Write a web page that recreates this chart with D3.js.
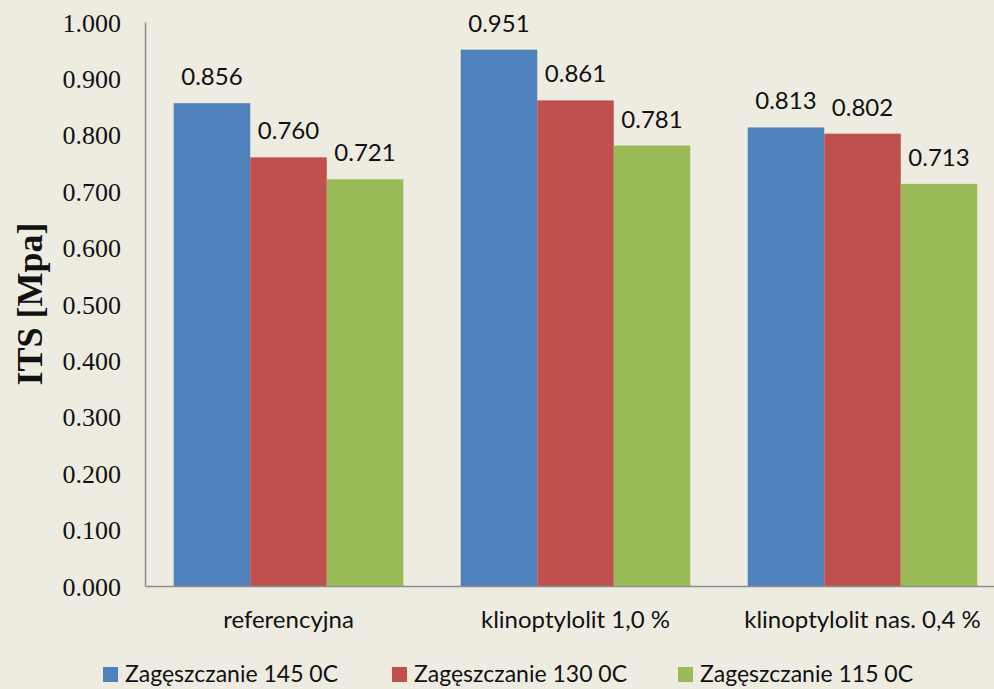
<!DOCTYPE html>
<html>
<head>
<meta charset="utf-8">
<script src="https://cdn.jsdelivr.net/npm/d3@7"></script>
<style>
  html, body { margin: 0; padding: 0; background: #eeece1; }
  svg { display: block; }
</style>
</head>
<body>
<svg id="chart" width="994" height="689"></svg>
<script>
// ITS values for three mixes at three compaction temperatures
const categories = ["referencyjna", "klinoptylolit 1,0 %", "klinoptylolit nas. 0,4 %"];
const seriesNames = ["Zagęszczanie 145 0C", "Zagęszczanie 130 0C", "Zagęszczanie 115 0C"];
const values145 = [0.856, 0.951, 0.813];
const values130 = [0.760, 0.861, 0.802];
const values115 = [0.721, 0.781, 0.713];
const yTicks = [0, 0.1, 0.2, 0.3, 0.4, 0.5, 0.6, 0.7, 0.8, 0.9, 1.0];
const colors = ["#4f81bd", "#c0504d", "#9bbb59"];

const series = [values145, values130, values115];

const svg = d3.select("#chart");
const W = 994, H = 689;
const margin = { left: 145, top: 22, bottom: 103 };
const plotRight = 1006;
const plotBottom = H - margin.bottom;
const sansFont = "Lato, 'Open Sans', sans-serif";
const serifFont = "'Liberation Serif', 'Times New Roman', serif";

svg.append("rect").attr("width", W).attr("height", H).attr("fill", "#eeece1");

const x0 = d3.scaleBand().domain(categories).range([margin.left, plotRight]).paddingInner(0).paddingOuter(0);
const x1 = d3.scaleBand().domain(d3.range(seriesNames.length)).range([0, x0.bandwidth()]).paddingInner(0).paddingOuter(0.375);
const y = d3.scaleLinear().domain([0, 1]).range([plotBottom, margin.top]);

// bars
const groups = svg.append("g").selectAll("g")
  .data(categories)
  .join("g")
  .attr("transform", d => `translate(${x0(d)},0)`);

groups.selectAll("rect")
  .data((c, ci) => series.map((s, si) => ({ si, v: s[ci] })))
  .join("rect")
  .attr("x", d => x1(d.si))
  .attr("y", d => y(d.v))
  .attr("width", x1.bandwidth())
  .attr("height", d => y(0) - y(d.v))
  .attr("fill", d => colors[d.si]);

groups.selectAll("text")
  .data((c, ci) => series.map((s, si) => ({ si, v: s[ci] })))
  .join("text")
  .attr("x", d => x1(d.si) + x1.bandwidth() / 2)
  .attr("y", d => y(d.v) - 18)
  .attr("text-anchor", "middle")
  .attr("font-family", sansFont)
  .attr("font-size", 24)
  .attr("fill", "#111")
  .text(d => d3.format(".3f")(d.v));

// axes
const yAxis = d3.axisLeft(y).tickValues(yTicks).tickFormat(d3.format(".3f")).tickSize(0).tickPadding(24);
const gy = svg.append("g").attr("transform", `translate(${margin.left},0)`).call(yAxis);
gy.select(".domain").attr("stroke", "#8c8c8c").attr("stroke-width", 1.5);
gy.selectAll("text")
  .attr("font-family", serifFont)
  .attr("font-size", 26)
  .attr("fill", "#111")
  .attr("dy", "0.35em");

const xAxis = d3.axisBottom(x0).tickSize(0).tickPadding(25);
const gx = svg.append("g").attr("transform", `translate(0,${plotBottom})`).call(xAxis);
gx.select(".domain").attr("stroke", "#8c8c8c").attr("stroke-width", 1.5);
gx.selectAll("text")
  .attr("font-family", sansFont)
  .attr("font-size", 24)
  .attr("fill", "#111");

// y-axis title
svg.append("text")
  .attr("transform", `translate(42,${(margin.top + plotBottom) / 2}) rotate(-90)`)
  .attr("text-anchor", "middle")
  .attr("font-family", serifFont)
  .attr("font-weight", "bold")
  .attr("font-size", 36)
  .attr("fill", "#111")
  .text("ITS [Mpa]");

// legend
const legendX = [103, 392, 678];
const legend = svg.append("g").selectAll("g")
  .data(seriesNames)
  .join("g")
  .attr("transform", (d, i) => `translate(${legendX[i]},667)`);
legend.append("rect").attr("width", 15).attr("height", 15).attr("fill", (d, i) => colors[i]);
legend.append("text")
  .attr("x", 22).attr("y", 15)
  .attr("font-family", sansFont)
  .attr("font-size", 23)
  .attr("fill", "#111")
  .text(d => d);
</script>
</body>
</html>
